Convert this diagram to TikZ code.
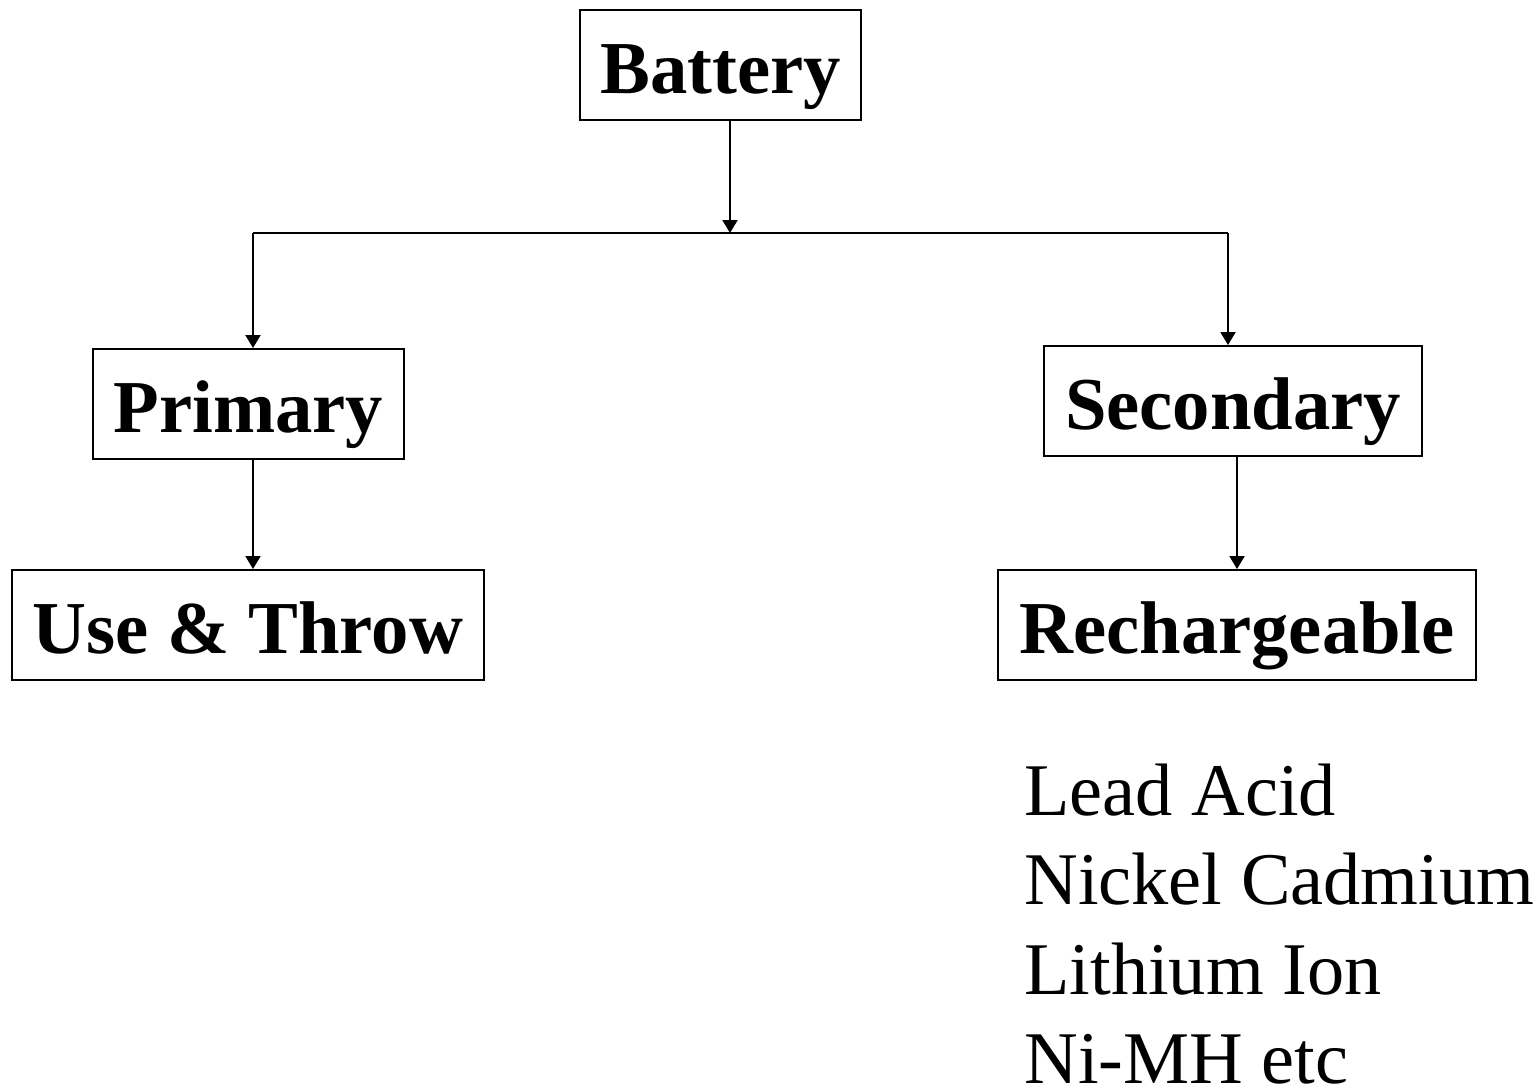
\documentclass[tikz,border=0pt]{standalone}
\usepackage{fontspec}
\setmainfont{Liberation Serif}
\usetikzlibrary{arrows.meta,positioning}
\tikzset{
  box/.style={rectangle,draw=black,line width=0.04cm,inner sep=0pt,
              minimum height=2.2cm,minimum width=#1,
              text height=1.3cm,text depth=0.18cm,
              font=\fontsize{42.5}{50}\selectfont\bfseries,align=center},
  box/.default=6cm,
  arr/.style={-{Triangle[length=0.26cm,width=0.3cm]},line width=0.04cm},
  link/.style={line width=0.04cm},
  item/.style={anchor=base west,inner sep=0pt,
               font=\fontsize{42.3}{50}\selectfont},
}
\begin{document}
\begin{tikzpicture}[x=0.02cm,y=-0.02cm]
  \useasboundingbox (0,0) rectangle (1537,1090);
  \node[box=5.62cm] (bat)  at (720.5,65)  {Battery};
  \node[box=6.22cm] (prim) at (248.5,404) {Primary};
  \node[box=7.56cm] (sec)  at (1233,401)  {Secondary};
  \node[box=9.44cm] (use)  at (248,625)   {Use \& Throw};
  \node[box=9.56cm] (rech) at (1237,625)  {Rechargeable};
  % branch points
  \coordinate (split)  at (730,233);
  \coordinate (lsplit) at (253,233);
  \coordinate (rsplit) at (1228,233);
  \coordinate (rdown)  at (1237,500);
  \draw[arr] (bat.south -| split) -- (split);
  \draw[link] (lsplit) -- (rsplit);
  \draw[arr] (lsplit) -- (lsplit |- prim.north);
  \draw[arr] (rsplit) -- (rsplit |- sec.north);
  \draw[arr] (prim.south -| lsplit) -- (lsplit |- use.north);
  \draw[arr] (sec.south -| rdown) -- (rdown |- rech.north);
  % kinds of rechargeable cells
  \foreach \txt [count=\i] in {Lead Acid,Nickel Cadmium,Lithium Ion,Ni-MH etc}
    \node[item] (kind\i) at (1024,{815+89.5*(\i-1)}) {\txt};
\end{tikzpicture}
\end{document}
